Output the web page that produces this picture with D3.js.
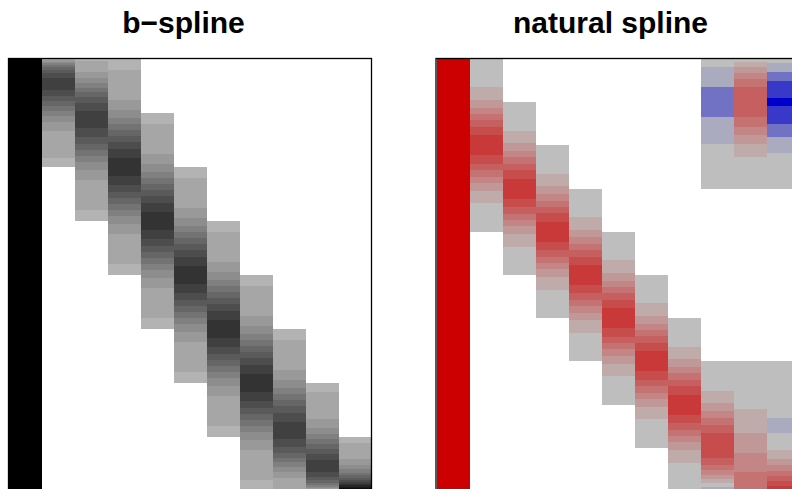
<!DOCTYPE html>
<html><head><meta charset="utf-8">
<script src="https://cdn.jsdelivr.net/npm/d3@7"></script>
<style>html,body{margin:0;padding:0;background:#fff;overflow:hidden}svg{display:block}</style>
</head><body>
<svg id="chart" width="792" height="489"></svg>
<script>
// ---------------- data ----------------
const panelTitles = ["b\u2212spline", "natural spline"];
const bsColumns = ["(Intercept)", "1", "2", "3", "4", "5", "6", "7", "8", "9", "10"];
const nsColumns = ["(Intercept)", "1", "2", "3", "4", "5", "6", "7", "8", "9", "10"];
const bsDomain = [0, 8];   // x range in knot intervals (b-spline)
const nsDomain = [0, 10];  // x range in knot intervals (natural spline)

// runs: [from, to, shade level]  (b-spline levels 0..14, 14 = value 1)
const bsIntercept = [[0, 8, 14]];
const bsCol1 = [[0,0.025,1],[0.025,0.052,2],[0.052,0.081,3],[0.081,0.114,4],[0.114,0.151,5],[0.151,0.196,6],[0.196,0.254,7],[0.254,0.345,8],[0.345,0.572,9],[0.572,0.693,8],[0.693,0.785,7],[0.785,0.869,6],[0.869,0.954,5],[0.954,1.05,4],[1.05,1.17,3],[1.17,1.341,2],[1.341,1.829,1],[1.829,2,0]];
const bsCol2 = [[0,0.029,0],[0.029,0.236,1],[0.236,0.348,2],[0.348,0.443,3],[0.443,0.531,4],[0.531,0.619,5],[0.619,0.711,6],[0.711,0.815,7],[0.815,0.96,8],[0.96,1.269,9],[1.269,1.442,8],[1.442,1.569,7],[1.569,1.683,6],[1.683,1.794,5],[1.794,1.912,4],[1.912,2.05,3],[2.05,2.246,2],[2.246,2.804,1],[2.804,3,0]];
const bsInteriorProfile = [[0,0.196,0],[0.196,0.754,1],[0.754,0.95,2],[0.95,1.088,3],[1.088,1.205,4],[1.205,1.314,5],[1.314,1.421,6],[1.421,1.534,7],[1.534,1.662,8],[1.662,1.839,9],[1.839,2.161,10],[2.161,2.338,9],[2.338,2.466,8],[2.466,2.579,7],[2.579,2.686,6],[2.686,2.795,5],[2.795,2.912,4],[2.912,3.05,3],[3.05,3.246,2],[3.246,3.804,1],[3.804,4,0]];
const bsInteriorStarts = [0, 1, 2, 3, 4];   // columns 3..7
const bsCol8 = [[5,5.196,0],[5.196,5.754,1],[5.754,5.95,2],[5.95,6.088,3],[6.088,6.206,4],[6.206,6.317,5],[6.317,6.431,6],[6.431,6.558,7],[6.558,6.731,8],[6.731,7.04,9],[7.04,7.185,8],[7.185,7.289,7],[7.289,7.381,6],[7.381,7.469,5],[7.469,7.557,4],[7.557,7.652,3],[7.652,7.764,2],[7.764,7.971,1],[7.971,8,0]];
const bsCol9 = [[6,6.171,0],[6.171,6.659,1],[6.659,6.83,2],[6.83,6.95,3],[6.95,7.046,4],[7.046,7.131,5],[7.131,7.215,6],[7.215,7.307,7],[7.307,7.428,8],[7.428,7.655,9],[7.655,7.746,8],[7.746,7.804,7],[7.804,7.849,6],[7.849,7.886,5],[7.886,7.919,4],[7.919,7.948,3],[7.948,7.975,2],[7.975,8,1]];
const bsCol10 = [[7,7.108,0],[7.108,7.415,1],[7.415,7.523,2],[7.523,7.598,3],[7.598,7.659,4],[7.659,7.709,5],[7.709,7.754,6],[7.754,7.794,7],[7.794,7.83,8],[7.83,7.863,9],[7.863,7.894,10],[7.894,7.922,11],[7.922,7.95,12],[7.95,7.976,13],[7.976,8,14]];

// natural spline levels: -4..10 (0 = near zero, 10 = value 1)
const nsIntercept = [[0, 10, 10]];
const nsInteriorProfile = [[0,0.659,0],[0.659,0.95,1],[0.95,1.129,2],[1.129,1.278,3],[1.278,1.421,4],[1.421,1.574,5],[1.574,1.768,6],[1.768,2.232,7],[2.232,2.426,6],[2.426,2.579,5],[2.579,2.722,4],[2.722,2.871,3],[2.871,3.05,2],[3.05,3.341,1],[3.341,4,0]];
const nsInteriorStarts = [0, 1, 2, 3, 4, 5, 6];  // columns 1..7
const nsCol8 = [[0,0.19,0],[0.19,0.659,-1],[0.659,1.354,-2],[1.354,1.959,-1],[1.959,3,0],
  [7,7.675,0],[7.675,7.974,1],[7.974,8.159,2],[8.159,8.318,3],[8.318,8.477,4],[8.477,8.661,5],[8.661,9.243,6],[9.243,9.399,5],[9.399,9.522,4],[9.522,9.628,3],[9.628,9.727,2],[9.727,9.82,1],[9.82,9.911,0],[9.911,10,-1]];
const nsCol9 = [[0,0.063,0],[0.063,0.19,1],[0.19,0.325,2],[0.325,0.474,3],[0.474,0.659,4],[0.659,1.354,5],[1.354,1.564,4],[1.564,1.753,3],[1.753,1.959,2],[1.959,2.279,1],[2.279,3,0],
  [7,8.101,0],[8.101,8.661,1],[8.661,9.111,2],[9.111,9.556,3],[9.556,10,4]];
const nsCol10 = [[0,0.094,0],[0.094,0.29,-1],[0.29,0.515,-2],[0.515,0.903,-3],[0.903,1.098,-4],[1.098,1.515,-3],[1.515,1.801,-2],[1.801,2.174,-1],[2.174,3,0],
  [7,8.319,0],[8.319,8.656,-1],[8.656,9.062,0],[9.062,9.252,1],[9.252,9.403,2],[9.403,9.536,3],[9.536,9.659,4],[9.659,9.776,5],[9.776,9.889,6],[9.889,10,7]];

// ---------------- build ----------------
const shift = (runs, s) => runs.map(([a, b, l]) => [a + s, b + s, l]);
const bsRuns = [bsIntercept, bsCol1, bsCol2, ...bsInteriorStarts.map(s => shift(bsInteriorProfile, s)), bsCol8, bsCol9, bsCol10];
const nsRuns = [nsIntercept, ...nsInteriorStarts.map(s => shift(nsInteriorProfile, s)), nsCol8, nsCol9, nsCol10];

const bsColor = d3.scaleLinear().domain([0, 14]).range(["#b3b3b3", "#000000"]);
const nsColor = d3.scaleLinear().domain([-4, -1, 0, 10]).range(["#0000cd", "#ababc0", "#bebebe", "#cd0000"]);

const svg = d3.select("#chart");
const plotTop = 59, plotBottom = 491;

function panel(cols, runs, domain, color, x0, title, titleX) {
  const x = d3.scaleBand().domain(cols).range([x0, x0 + 363]);
  const y = d3.scaleLinear().domain(domain).range([plotTop, plotBottom]);
  const cells = runs.flatMap((r, i) => r.map(([a, b, l]) => ({ col: cols[i], a, b, l })));
  const g = svg.append("g");
  g.selectAll("rect.cell").data(cells).join("rect")
    .attr("class", "cell")
    .attr("x", d => x(d.col))
    .attr("width", x.bandwidth())
    .attr("y", d => y(d.a))
    .attr("height", d => y(d.b) - y(d.a))
    .attr("fill", d => color(d.l))
    .attr("shape-rendering", "crispEdges");
  g.append("rect")
    .attr("x", x0 - 0.5).attr("y", plotTop - 0.5)
    .attr("width", 363).attr("height", plotBottom - plotTop)
    .attr("fill", "none").attr("stroke", "#000").attr("stroke-width", 1.3);
  svg.append("text")
    .attr("x", titleX).attr("y", 33)
    .attr("text-anchor", "middle")
    .attr("font-family", "'Liberation Sans', Arial, Helvetica, sans-serif")
    .attr("font-weight", "bold")
    .attr("font-size", 30)
    .text(title);
}
panel(bsColumns, bsRuns, bsDomain, bsColor, 9, panelTitles[0], 183.5);
panel(nsColumns, nsRuns, nsDomain, nsColor, 436.5, panelTitles[1], 610.5);
</script>
</body></html>
